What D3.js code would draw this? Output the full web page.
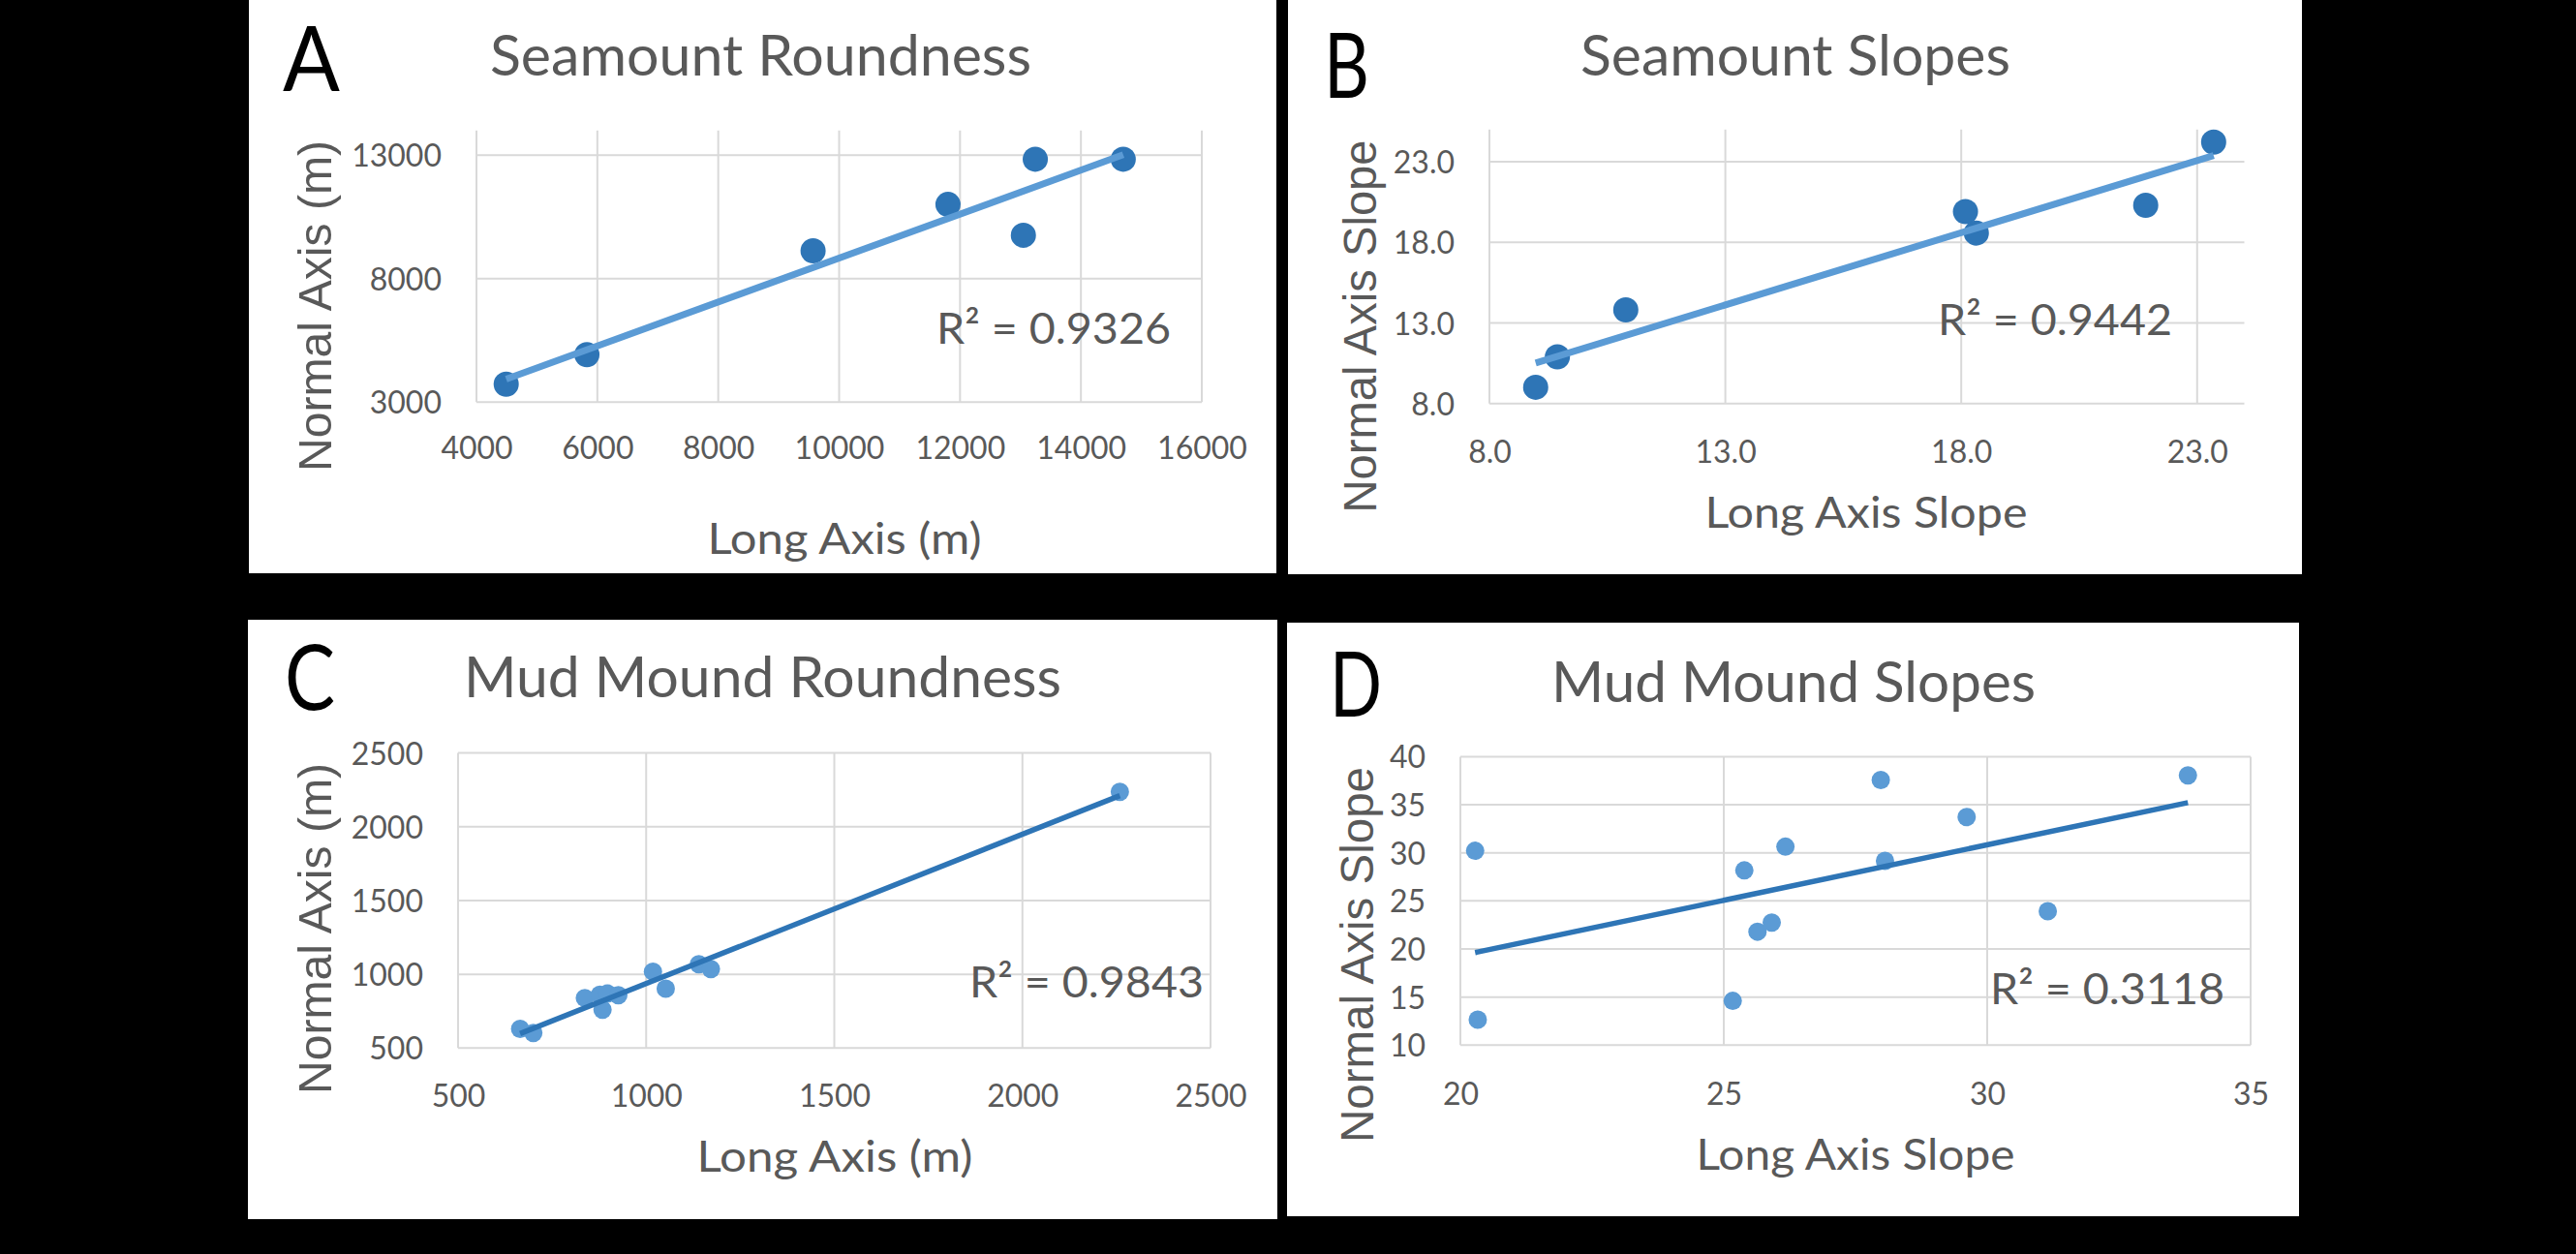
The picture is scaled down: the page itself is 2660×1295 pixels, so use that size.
<!DOCTYPE html>
<html>
<head>
<meta charset="utf-8">
<script src="https://cdn.jsdelivr.net/npm/d3@7"></script>
<style>
body { margin: 0; background: #000; }
svg { display: block; }
</style>
</head>
<body>
<script>
// A - seamount roundness (m)
var seamountLong = [4492, 5827, 9569, 11801, 13048, 13245, 14700];
var seamountNormal = [3721, 4922, 9126, 11003, 9757, 12835, 12835];
// B - seamount slopes
var seamountLongSlope = [8.98, 9.44, 10.89, 18.09, 18.32, 21.91, 23.35];
var seamountNormalSlope = [9.01, 10.90, 13.81, 19.91, 18.58, 20.30, 24.22];
// C - mud mound roundness (m)
var moundLong = [665, 700, 837, 877, 884, 897, 926, 1018, 1052, 1140, 1172, 2259];
var moundNormal = [630, 602, 839, 861, 760, 869, 858, 1018, 902, 1068, 1035, 2237];
// D - mud mound slopes
var moundLongSlope = [20.28, 20.33, 25.17, 25.39, 25.64, 25.91, 26.17, 27.98, 28.06, 29.61, 31.15, 33.81];
var moundNormalSlope = [30.21, 12.65, 14.60, 28.17, 21.80, 22.75, 30.64, 37.58, 29.17, 33.72, 23.92, 38.06];

var panelLetters = ["A", "B", "C", "D"];
var titles = ["Seamount Roundness", "Seamount Slopes", "Mud Mound Roundness", "Mud Mound Slopes"];
var xTitles = ["Long Axis (m)", "Long Axis Slope", "Long Axis (m)", "Long Axis Slope"];
var yTitles = ["Normal Axis (m)", "Normal Axis Slope", "Normal Axis (m)", "Normal Axis Slope"];
var rSquared = ["R\u00b2 = 0.9326", "R\u00b2 = 0.9442", "R\u00b2 = 0.9843", "R\u00b2 = 0.3118"];

var xDomains = [[4000, 16000], [8, 24], [500, 2500], [20, 35]];
var yDomains = [[3000, 14000], [8, 25], [500, 2500], [10, 40]];
var xTicks = [[4000, 6000, 8000, 10000, 12000, 14000, 16000], [8, 13, 18, 23], [500, 1000, 1500, 2000, 2500], [20, 25, 30, 35]];
var yTicks = [[3000, 8000, 13000], [8, 13, 18, 23], [500, 1000, 1500, 2000, 2500], [10, 15, 20, 25, 30, 35, 40]];
var tickFormats = ["d", ".1f", "d", "d"];

var seriesX = [seamountLong, seamountLongSlope, moundLong, moundLongSlope];
var seriesY = [seamountNormal, seamountNormalSlope, moundNormal, moundNormalSlope];

var layout = [
	{box: [257, 0, 1318, 592], plot: [492, 134.7, 1241, 415.2], letter: [292, 94, 59], title: [506, 78, 559],
	 xt: [872, 572, 283], yt: [342, 316, 342], r2: [967, 355, 242], xtickY: 474, r: 13, dark: true},
	{box: [1330, 0, 2377, 593], plot: [1538, 133.8, 2317.5, 416.7], letter: [1367, 101, 47], title: [1632, 78, 444],
	 xt: [1927, 545, 333], yt: [1421, 337, 385], r2: [2001, 346, 242], xtickY: 478, r: 13, dark: true},
	{box: [256, 640, 1319, 1259], plot: [473, 777.6, 1250, 1082.3], letter: [294, 733, 52], title: [479, 720, 617],
	 xt: [862, 1210, 285], yt: [342, 959, 342], r2: [1001, 1030, 242], xtickY: 1143, r: 9.5, dark: false},
	{box: [1329, 643, 2374, 1256], plot: [1508, 781.4, 2324, 1079.3], letter: [1373, 740, 54], title: [1602, 725, 500],
	 xt: [1916, 1208, 329], yt: [1418, 986, 388], r2: [2055, 1037, 242], xtickY: 1141, r: 9.5, dark: false}
];

var darkBlue = "#2E75B6", lightBlue = "#5B9BD5";
var gray = "#595959", gridColor = "#D9D9D9";
var calibriLike = "Lato, 'Open Sans', sans-serif";

var svg = d3.select("body").append("svg")
	.attr("width", 2660)
	.attr("height", 1295);

svg.append("rect")
	.attr("width", 2660)
	.attr("height", 1295)
	.attr("fill", "#000");

function fitText(sel, w) {
	sel.attr("textLength", w).attr("lengthAdjust", "spacingAndGlyphs");
}

function drawPanel(i) {
	var L = layout[i];
	var g = svg.append("g");

	g.append("rect")
		.attr("x", L.box[0])
		.attr("y", L.box[1])
		.attr("width", L.box[2] - L.box[0])
		.attr("height", L.box[3] - L.box[1])
		.attr("fill", "#fff");

	var x = d3.scaleLinear().domain(xDomains[i]).range([L.plot[0], L.plot[2]]);
	var y = d3.scaleLinear().domain(yDomains[i]).range([L.plot[3], L.plot[1]]);
	var fmt = d3.format(tickFormats[i]);

	// vertical gridlines
	g.selectAll(".vgrid")
		.data(xTicks[i])
		.enter().append("line")
		.attr("x1", function(d) { return x(d); })
		.attr("x2", function(d) { return x(d); })
		.attr("y1", L.plot[1])
		.attr("y2", L.plot[3])
		.attr("stroke", gridColor)
		.attr("stroke-width", 2);

	// horizontal gridlines
	g.selectAll(".hgrid")
		.data(yTicks[i])
		.enter().append("line")
		.attr("x1", L.plot[0])
		.attr("x2", L.plot[2])
		.attr("y1", function(d) { return y(d); })
		.attr("y2", function(d) { return y(d); })
		.attr("stroke", gridColor)
		.attr("stroke-width", 2);

	// tick labels
	var xAxis = d3.axisBottom(x).tickValues(xTicks[i]).tickFormat(fmt).tickSize(0).tickPadding(0);
	var xg = g.append("g").attr("transform", "translate(0," + L.xtickY + ")").call(xAxis);
	xg.select(".domain").remove();
	xg.selectAll("text")
		.attr("dy", 0)
		.attr("y", 0)
		.attr("fill", gray)
		.style("font-family", calibriLike)
		.style("font-size", "32px");

	var yAxis = d3.axisLeft(y).tickValues(yTicks[i]).tickFormat(fmt).tickSize(0).tickPadding(36);
	var yg = g.append("g").attr("transform", "translate(" + L.plot[0] + ",0)").call(yAxis);
	yg.select(".domain").remove();
	yg.selectAll("text")
		.attr("dy", "0.36em")
		.attr("fill", gray)
		.style("font-family", calibriLike)
		.style("font-size", "32px");

	// trendline (least squares, like the spreadsheet did)
	var xs = seriesX[i], ys = seriesY[i];
	var mx = d3.mean(xs), my = d3.mean(ys);
	var sxy = d3.sum(xs, function(v, k) { return (v - mx) * (ys[k] - my); });
	var sxx = d3.sum(xs, function(v) { return (v - mx) * (v - mx); });
	var slope = sxy / sxx, icpt = my - slope * mx;
	var x0 = d3.min(xs), x1 = d3.max(xs);

	var points = xs.map(function(v, k) { return {x: v, y: ys[k]}; });

	var markColor = L.dark ? darkBlue : lightBlue;
	var lineColor = L.dark ? lightBlue : darkBlue;

	g.selectAll(".dot")
		.data(points)
		.enter().append("circle")
		.attr("cx", function(d) { return x(d.x); })
		.attr("cy", function(d) { return y(d.y); })
		.attr("r", L.r)
		.attr("fill", markColor);

	g.append("line")
		.attr("x1", x(x0))
		.attr("y1", y(slope * x0 + icpt))
		.attr("x2", x(x1))
		.attr("y2", y(slope * x1 + icpt))
		.attr("stroke", lineColor)
		.attr("stroke-width", L.dark ? 7 : 5.5);

	// R squared
	g.append("text")
		.attr("x", L.r2[0])
		.attr("y", L.r2[1])
		.attr("fill", gray)
		.style("font-family", calibriLike)
		.style("font-size", "45px")
		.text(rSquared[i])
		.call(fitText, L.r2[2]);

	// panel letter
	g.append("text")
		.attr("x", L.letter[0])
		.attr("y", L.letter[1])
		.attr("fill", "#000")
		.style("font-family", calibriLike)
		.style("font-size", "93px")
		.text(panelLetters[i])
		.call(fitText, L.letter[2]);

	// title
	g.append("text")
		.attr("x", L.title[0])
		.attr("y", L.title[1])
		.attr("fill", gray)
		.style("font-family", calibriLike)
		.style("font-size", "58px")
		.text(titles[i])
		.call(fitText, L.title[2]);

	// axis titles
	g.append("text")
		.attr("x", L.xt[0] - L.xt[2] / 2)
		.attr("y", L.xt[1])
		.attr("fill", gray)
		.style("font-family", calibriLike)
		.style("font-size", "44px")
		.text(xTitles[i])
		.call(fitText, L.xt[2]);

	g.append("text")
		.attr("transform", "translate(" + L.yt[0] + "," + (L.yt[1] + L.yt[2] / 2) + ") rotate(-90)")
		.attr("fill", gray)
		.style("font-family", "'Liberation Sans', Arial, sans-serif")
		.style("font-size", "48px")
		.text(yTitles[i])
		.call(fitText, L.yt[2]);
}

for (var i = 0; i < 4; i++) {
	drawPanel(i);
}
</script>
</body>
</html>
